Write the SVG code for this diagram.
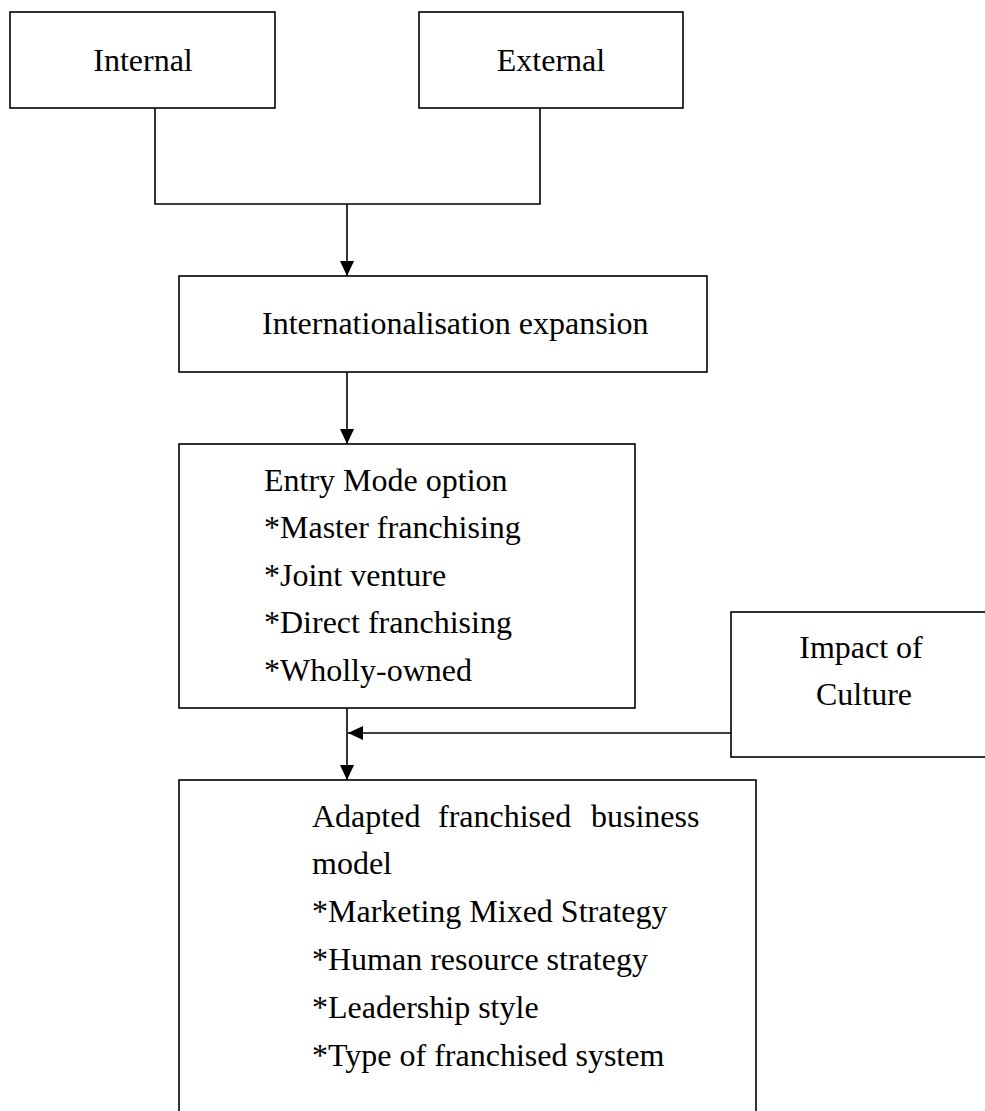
<svg xmlns="http://www.w3.org/2000/svg" width="985" height="1111" viewBox="0 0 985 1111">
  <style>
    .box { fill: #fff; stroke: #000; stroke-width: 1.6; }
    .wire { fill: none; stroke: #000; stroke-width: 1.6; }
    text { font-family: "Liberation Serif", "Times New Roman", serif; font-size: 32px; fill: #000; }
  </style>
  <defs>
    <marker id="head" viewBox="0 0 15 14" refX="15" refY="7" markerWidth="15" markerHeight="14" markerUnits="userSpaceOnUse" orient="auto">
      <path d="M0,0 L15,7 L0,14 Z" fill="#000"/>
    </marker>
  </defs>

  <rect width="985" height="1111" fill="#fff"/>

  <g id="connectors">
    <!-- Internal and External merge into one feed -->
    <path class="wire" d="M155,108 V204 H540 V108"/>
    <path class="wire" d="M347,204 V276" marker-end="url(#head)"/>
    <!-- Expansion to entry mode -->
    <path class="wire" d="M347,372 V444" marker-end="url(#head)"/>
    <!-- Entry mode to adapted model -->
    <path class="wire" d="M347,708 V780" marker-end="url(#head)"/>
    <!-- Culture influence -->
    <path class="wire" d="M731,733 H348" marker-end="url(#head)"/>
  </g>

  <g id="internal">
    <rect class="box" x="10" y="12" width="265" height="96"/>
    <text x="143" y="71" text-anchor="middle">Internal</text>
  </g>

  <g id="external">
    <rect class="box" x="419" y="12" width="264" height="96"/>
    <text x="551" y="71" text-anchor="middle">External</text>
  </g>

  <g id="expansion">
    <rect class="box" x="179" y="276" width="528" height="96"/>
    <text x="262" y="334">Internationalisation expansion</text>
  </g>

  <g id="entry-mode">
    <rect class="box" x="179" y="444" width="456" height="264"/>
    <text x="264" y="491">Entry Mode option</text>
    <text x="264" y="538">*Master franchising</text>
    <text x="264" y="586">*Joint venture</text>
    <text x="264" y="633">*Direct franchising</text>
    <text x="264" y="681">*Wholly-owned</text>
  </g>

  <g id="culture">
    <rect class="box" x="731" y="612" width="260" height="145"/>
    <text x="861" y="658" text-anchor="middle">Impact of</text>
    <text x="864" y="705" text-anchor="middle">Culture</text>
  </g>

  <g id="adapted-model">
    <rect class="box" x="179" y="780" width="577" height="340"/>
    <text y="827"><tspan x="312">Adapted</tspan><tspan x="438">franchised</tspan><tspan x="591">business</tspan></text>
    <text x="312" y="874">model</text>
    <text x="312" y="922">*Marketing Mixed Strategy</text>
    <text x="312" y="970">*Human resource strategy</text>
    <text x="312" y="1018">*Leadership style</text>
    <text x="312" y="1066">*Type of franchised system</text>
  </g>
</svg>
